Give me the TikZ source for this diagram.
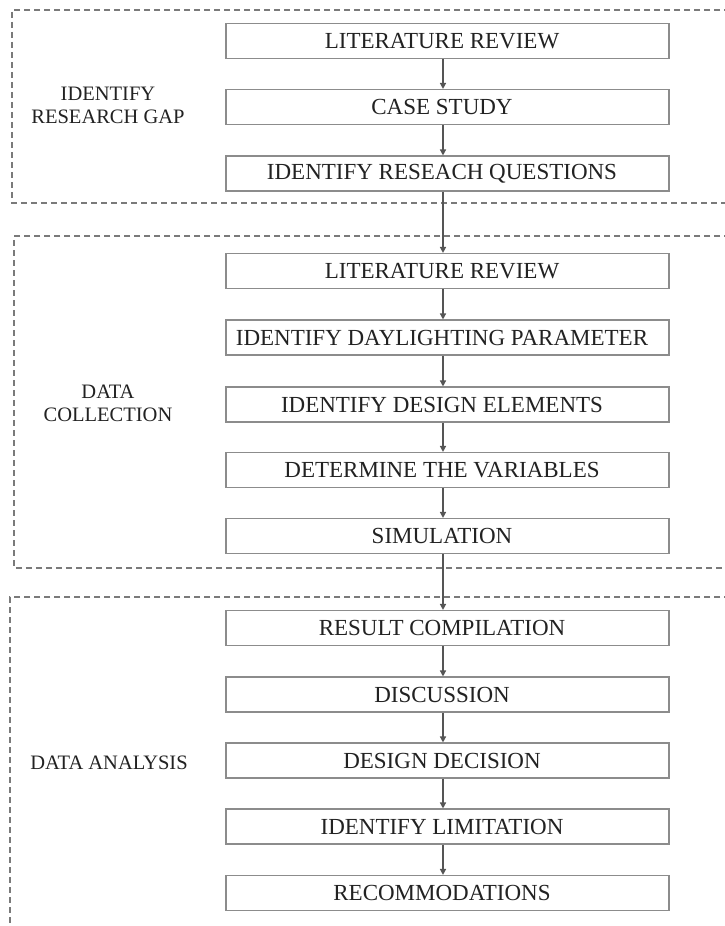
\documentclass[tikz,border=0pt]{standalone}
\usepackage{fontspec}
\setmainfont{Liberation Serif}
\usetikzlibrary{arrows.meta}
\definecolor{boxline}{HTML}{8C8C8C}
\definecolor{arrline}{HTML}{555555}
\definecolor{frameline}{HTML}{7A7A7A}
\definecolor{txt}{HTML}{222222}
\tikzset{
  stepbox/.style={draw=boxline, line width=1.1pt, minimum width=443pt, minimum height=35pt,
    inner sep=0pt, text=txt, font=\fontsize{23}{25}\selectfont, fill=white,
    execute at begin node=\hspace*{-5.5pt}, execute at end node=\hspace*{5.5pt}},
  flowarr/.style={draw=arrline, line width=1.4pt, -{Triangle[width=6pt,length=6pt]}},
  frame/.style={draw=frameline, line width=1.1pt, dash pattern=on 6pt off 4pt},
  phaselabel/.style={text=txt, font=\fontsize{20.5}{23}\selectfont, align=center}
}
\begin{document}
\begin{tikzpicture}[x=1pt,y=-1pt]
\useasboundingbox (0,0) rectangle (725,926);
\clip (0,0) rectangle (725,926);
\fill[white] (0,0) rectangle (725,926);
% frames
\draw[frame] (740,10) -- (12,10) -- (12,203) -- (740,203);
\draw[frame] (740,236) -- (14,236) -- (14,568) -- (740,568);
\draw[frame] (740,597) -- (10,597) -- (10,940);
% labels
\node[phaselabel] (lab1) at (108,105) {IDENTIFY\\RESEARCH GAP};
\node[phaselabel] (lab2) at (108,403) {DATA\\COLLECTION};
\node[phaselabel] (lab3) at (109,763) {DATA ANALYSIS};
% boxes
\node[stepbox] (a1) at (447.5,41) {LITERATURE REVIEW};
\node[stepbox] (a2) at (447.5,107) {CASE STUDY};
\node[stepbox] (a3) at (447.5,173.5) {IDENTIFY RESEACH QUESTIONS};
\node[stepbox] (b1) at (447.5,271) {LITERATURE REVIEW};
\node[stepbox] (b2) at (447.5,337.5) {IDENTIFY DAYLIGHTING PARAMETER};
\node[stepbox] (b3) at (447.5,404.5) {IDENTIFY DESIGN ELEMENTS};
\node[stepbox] (b4) at (447.5,470) {DETERMINE THE VARIABLES};
\node[stepbox] (b5) at (447.5,536) {SIMULATION};
\node[stepbox] (c1) at (447.5,628) {RESULT COMPILATION};
\node[stepbox] (c2) at (447.5,694.5) {DISCUSSION};
\node[stepbox] (c3) at (447.5,760.5) {DESIGN DECISION};
\node[stepbox] (c4) at (447.5,826.5) {IDENTIFY LIMITATION};
\node[stepbox] (c5) at (447.5,893) {RECOMMODATIONS};
\coordinate (ax) at (443,0);
% arrows
\foreach \u/\v in {a1/a2,a2/a3,a3/b1,b1/b2,b2/b3,b3/b4,b4/b5,b5/c1,c1/c2,c2/c3,c3/c4,c4/c5}
  \draw[flowarr] (\u.south -| ax) -- (\v.north -| ax);
\end{tikzpicture}
\end{document}
